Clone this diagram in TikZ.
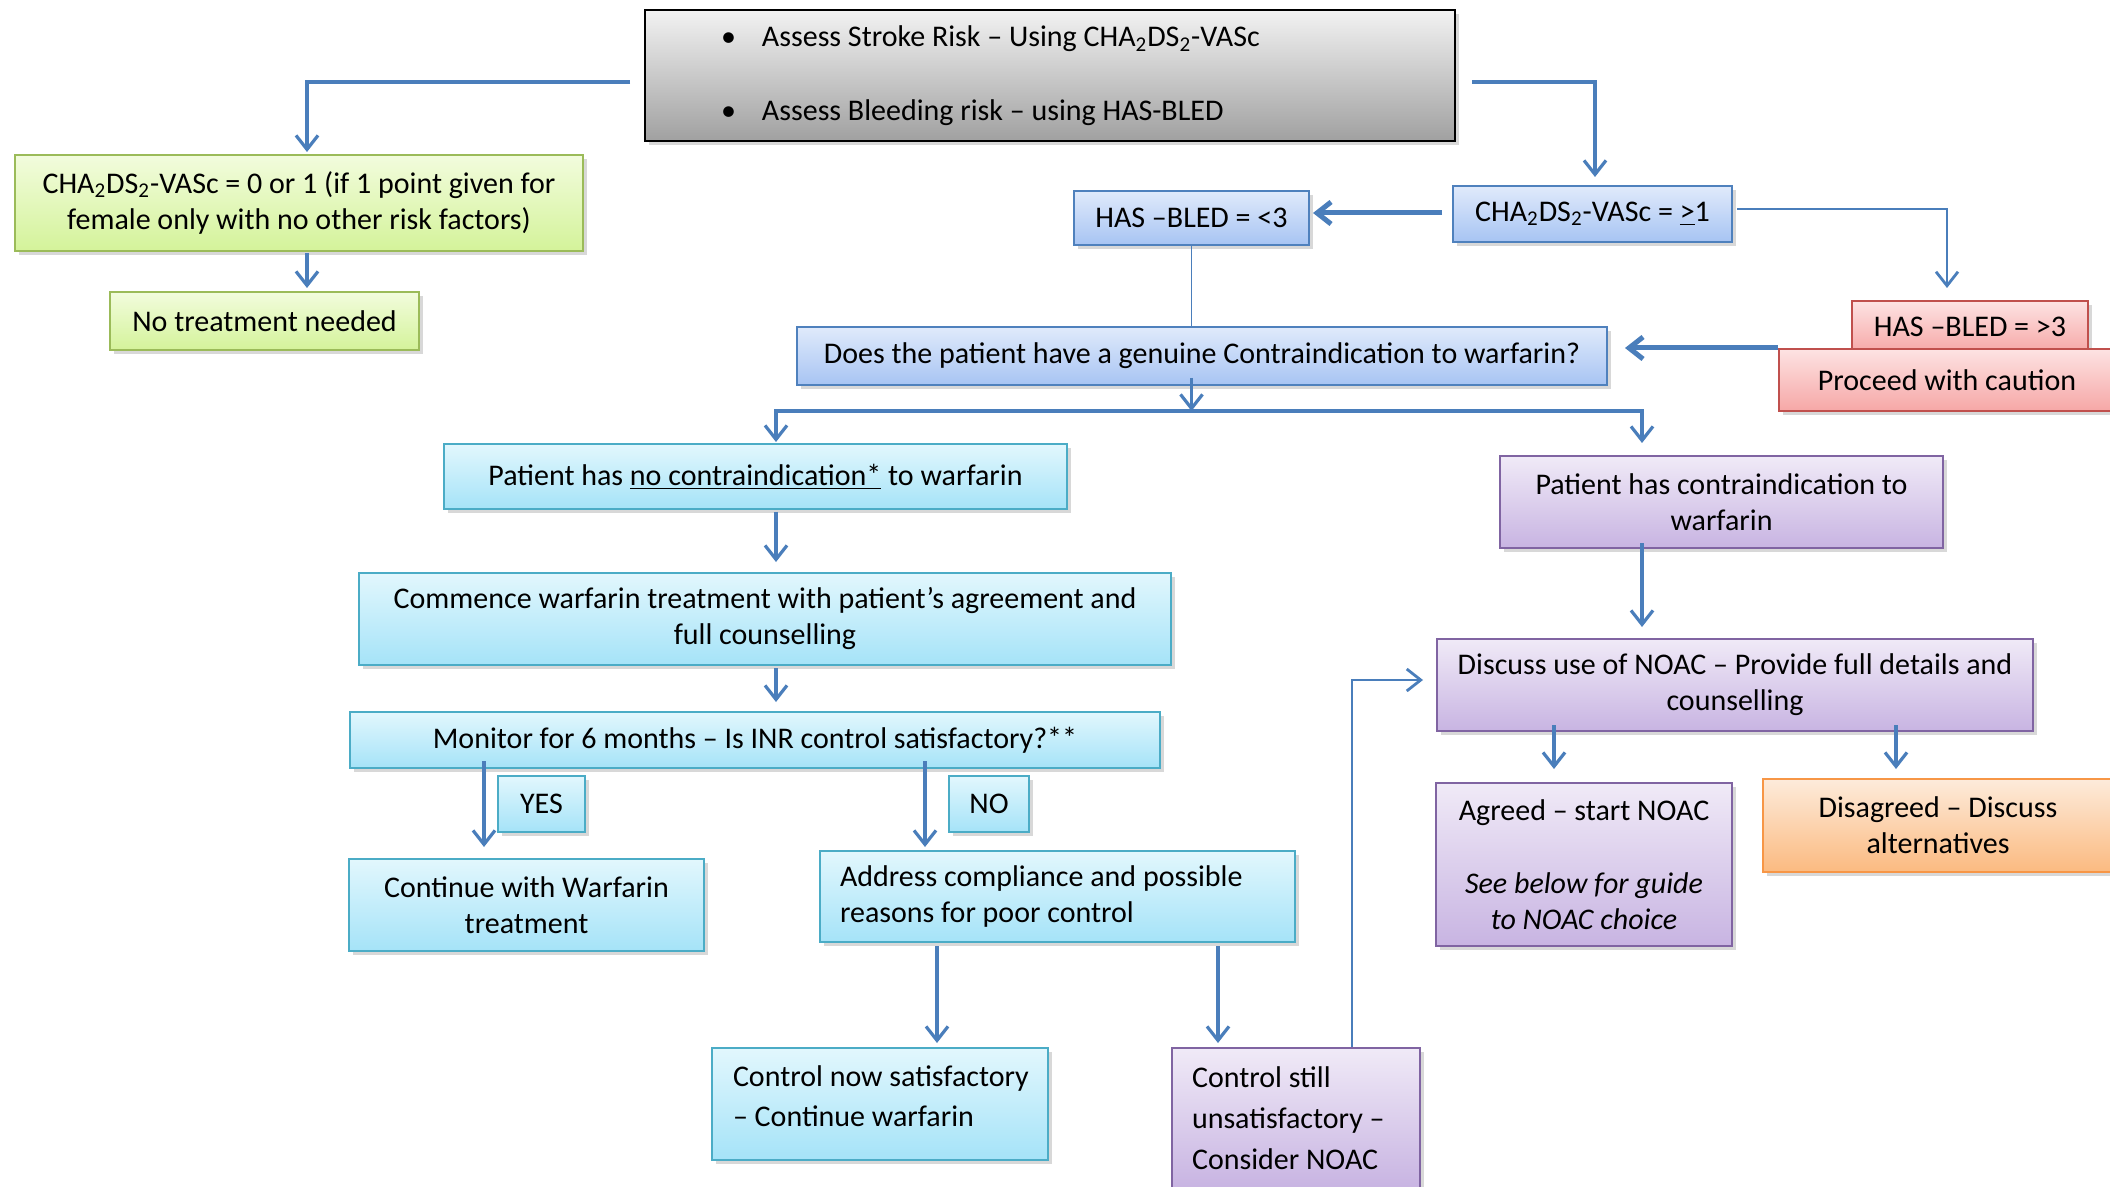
\documentclass[tikz,border=0pt]{standalone}
\usepackage{fontspec}
\setmainfont{Carlito}
\usetikzlibrary{arrows.meta,shadows,calc}
\definecolor{arrowblue}{HTML}{4A7EBB}
\definecolor{grayT}{HTML}{F2F2F2}
\definecolor{grayB}{HTML}{A0A0A0}
\definecolor{greenD}{HTML}{9BBB59}
\definecolor{greenT}{HTML}{F2FCDD}
\definecolor{greenB}{HTML}{D4F39A}
\definecolor{blueD}{HTML}{4F81BD}
\definecolor{blueT}{HTML}{E0EAFB}
\definecolor{blueB}{HTML}{A7C4F3}
\definecolor{cyanD}{HTML}{4BACC6}
\definecolor{cyanT}{HTML}{E2F7FD}
\definecolor{cyanB}{HTML}{A5E3F8}
\definecolor{purpD}{HTML}{8064A2}
\definecolor{purpT}{HTML}{F0EAF7}
\definecolor{purpB}{HTML}{C8B4E2}
\definecolor{redD}{HTML}{C0504D}
\definecolor{redT}{HTML}{FDE3E3}
\definecolor{redB}{HTML}{F6A7A6}
\definecolor{oranD}{HTML}{F79646}
\definecolor{oranT}{HTML}{FDEBDB}
\definecolor{oranB}{HTML}{FBBA80}
\tikzset{
  box/.style={rectangle, line width=1pt, inner sep=0pt, align=center,
    font=\fontsize{15}{18}\selectfont,
    drop shadow={shadow xshift=2pt,shadow yshift=-2pt,opacity=0.3}},
  graybox/.style={box, draw=black, top color=grayT, bottom color=grayB},
  greenbox/.style={box, draw=greenD, top color=greenT, bottom color=greenB},
  bluebox/.style={box, draw=blueD, top color=blueT, bottom color=blueB},
  cyanbox/.style={box, draw=cyanD, top color=cyanT, bottom color=cyanB},
  purpbox/.style={box, draw=purpD, top color=purpT, bottom color=purpB},
  redbox/.style={box, draw=redD, top color=redT, bottom color=redB},
  oranbox/.style={box, draw=oranD, top color=oranT, bottom color=oranB},
  arr/.style={draw=arrowblue, line width=1.6pt, -{Straight Barb[length=7pt,width=11pt]}},
  arrthick/.style={arr, line width=2.5pt},
  thinline/.style={draw=arrowblue, line width=0.9pt},
  thinarr/.style={draw=arrowblue, line width=0.9pt, -{Straight Barb[length=7pt,width=11pt,line width=1.4pt]}},
}
\begin{document}
\begin{tikzpicture}[x=0.5pt,y=-0.5pt]
\useasboundingbox (0,0) rectangle (2110,1187);
\fill[white] (0,0) rectangle (2110,1187);
\clip (0,0) rectangle (2110,1187);

% nodes
\node[graybox, minimum width=405pt, minimum height=65.5pt, text width=329pt, inner xsep=38pt, align=flush left] (top) at (1050,76)
  {\makebox[20.5pt][l]{\textbullet}Assess Stroke Risk – Using CHA\textsubscript{2}DS\textsubscript{2}-VASc\\[19pt]\makebox[20.5pt][l]{\textbullet}Assess Bleeding risk – using HAS-BLED};
\node[greenbox, minimum width=284pt, minimum height=48pt] (g1) at (299,203)
  {CHA\textsubscript{2}DS\textsubscript{2}-VASc = 0 or 1 (if 1 point given for\\female only with no other risk factors)};
\node[greenbox, minimum width=154.5pt, minimum height=29pt] (g2) at (264.5,321) {No treatment needed};
\node[bluebox, minimum width=139.5pt, minimum height=28pt] (cha) at (1592.5,214)
  {CHA\textsubscript{2}DS\textsubscript{2}-VASc = \underline{>}1};
\node[bluebox, minimum width=117.5pt, minimum height=27pt] (hl) at (1191.5,218) {HAS –BLED = <3};
\node[redbox, minimum width=118pt, minimum height=26pt] (hh) at (1970,327) {HAS –BLED = >3};
\node[redbox, minimum width=168pt, minimum height=31pt] (pc) at (1947,380) {Proceed with caution};
\node[bluebox, minimum width=405pt, minimum height=29pt] (q) at (1202,356)
  {Does the patient have a genuine Contraindication to warfarin?};
\node[cyanbox, minimum width=311.5pt, minimum height=32.5pt] (pn) at (755.5,476.5)
  {Patient has \underline{no contraindication*} to warfarin};
\node[cyanbox, minimum width=406pt, minimum height=46pt] (cm) at (765,619)
  {Commence warfarin treatment with patient’s agreement and\\full counselling};
\node[cyanbox, minimum width=405pt, minimum height=28pt] (mon) at (755,740)
  {Monitor for 6 months – Is INR control satisfactory?**};
\node[cyanbox, minimum width=43.5pt, minimum height=28pt] (yes) at (541.5,804) {YES};
\node[cyanbox, minimum width=40pt, minimum height=28pt] (no) at (989,804) {NO};
\node[cyanbox, minimum width=177.5pt, minimum height=46pt] (cont) at (526.5,905)
  {Continue with Warfarin\\treatment};
\node[cyanbox, minimum width=237.5pt, minimum height=45.5pt, text width=217.5pt, inner xsep=10pt, align=flush left] (addr) at (1057.5,896.5)
  {Address compliance and possible\\reasons for poor control};
\node[cyanbox, minimum width=168pt, minimum height=56pt, text width=147pt, inner xsep=10.5pt, align=flush left,
  font=\fontsize{15}{20}\selectfont] (cnow) at (880,1104)
  {\mbox{Control now satisfactory}\\– Continue warfarin\rule[-8pt]{0pt}{8pt}};
\node[purpbox, minimum width=124pt, minimum height=70pt, text width=104pt, inner xsep=10pt, align=flush left,
  font=\fontsize{15}{20.5}\selectfont] (cstill) at (1296,1118)
  {Control still\\unsatisfactory –\\Consider NOAC};
\node[purpbox, minimum width=221.5pt, minimum height=46pt] (ci) at (1721.5,502)
  {Patient has contraindication to\\warfarin};
\node[purpbox, minimum width=298pt, minimum height=46pt] (disc) at (1735,685)
  {Discuss use of NOAC – Provide full details and\\counselling};
\node[purpbox, minimum width=148pt, minimum height=81.5pt] (agr) at (1584,864.5)
  {Agreed – start NOAC\\[18.5pt]\textit{See below for guide}\\\textit{to NOAC choice}};
\node[oranbox, minimum width=175pt, minimum height=46.5pt] (dis) at (1938,825.5)
  {Disagreed – Discuss\\alternatives};

% connectors
\draw[arr] ($(top.west)+(-14,6)$) -| ($(g1.north)+(8,-2)$);
\draw[arr] ($(top.east)+(16,6)$) -| ($(cha.north)+(2.5,-8)$);
\draw[arr] ($(g1.south)+(8,1)$) -- ($(g2.north)+(42.5,-3)$);
\draw[arrthick] ($(cha.west)+(-10,-1)$) -- ($(hl.east)+(3,-5)$);
\draw[thinarr] ($(cha.east)+(4,-5)$) -| ($(hh.north)+(-23,-12)$);
\draw[arrthick] (pc.north west) -- ($(pc.north west -| q.east)+(17,0)$);
\draw[thinline] (hl.south) -- (hl.south |- q.north);
\coordinate (split) at ($(hl.south |- q.south)+(0,25)$);
\draw[arr] ($(hl.south |- q.south)+(0,-8)$) -- (split);
\draw[arr] (split) -| ($(pn.north)+(20.5,-1)$);
\draw[arr] (split) -| ($(ci.north)+(-79.5,-12)$);
\draw[arr] ($(pn.south)+(20.5,2)$) -- ($(cm.north)+(11,-10)$);
\draw[arr] ($(cm.south)+(11,2)$) -- ($(mon.north)+(21,-9)$);
\draw[arr] ($(mon.south)+(-271,-8)$) -- ($(cont.north)+(-42.5,-11)$);
\draw[arr] ($(mon.south)+(170,-8)$) -- ($(addr.north)+(-132.5,-3)$);
\draw[arr] ($(addr.south)+(-120.5,3)$) -- ($(cnow.north)+(57,-4)$);
\draw[arr] ($(addr.south)+(160.5,3)$) -- ($(cstill.north)+(-78,-4)$);
\draw[thinarr] ($(cstill.north)+(56,0)$) |- ($(disc.west)+(-13,-5)$);
\draw[arr] ($(ci.south)+(-79.5,-6)$) -- ($(disc.north)+(-93,-11)$);
\draw[arr] ($(disc.south)+(-181,-7)$) -- ($(agr.north)+(-30,-13)$);
\draw[arr] ($(disc.south)+(161,-7)$) -- ($(dis.north)+(-42,-9)$);
\end{tikzpicture}
\end{document}
